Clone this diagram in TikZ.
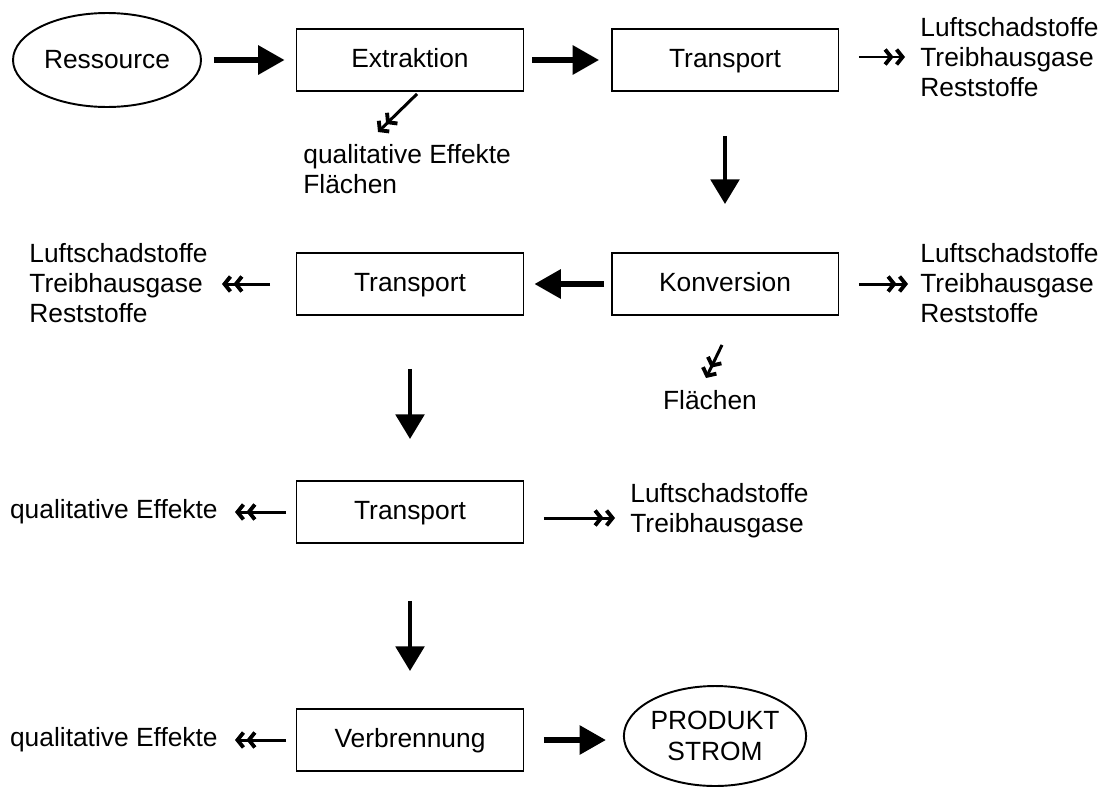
\documentclass[tikz,border=0pt]{standalone}
\usepackage{fontspec}
\setmainfont{Liberation Sans}
\usetikzlibrary{arrows.meta,shapes.geometric}
\begin{document}
\begin{tikzpicture}[x=0.02cm,y=-0.02cm, font=\fontsize{15}{17}\selectfont,
  box/.style={draw, line width=1.1pt, minimum width=4.54cm, minimum height=1.24cm, inner sep=0pt, text height=11pt, text depth=3pt},
  oval/.style={draw, ellipse, line width=1.1pt, inner sep=0pt, align=center},
  txt/.style={inner sep=0pt, align=left},
  bigarrow/.style={line width=3.2pt, -{Triangle[length=15pt,width=16pt]}},
  downarrow/.style={line width=2.8pt, -{Triangle[length=14pt,width=16pt]}},
  dblarrow/.style={line width=1.7pt, -{Straight Barb[length=3.4pt,width=8.5pt,line width=2.2pt,sep=0.6pt]Straight Barb[length=3.4pt,width=8.5pt,line width=2.2pt]}}]
\useasboundingbox (0,0) rectangle (1104,788);

% row 1
\node[oval, minimum width=3.76cm, minimum height=1.88cm] (res) at (107,60) {Ressource};
\node[box] (ext) at (410,60) {Extraktion};
\node[box] (tr1) at (725,60) {Transport};
\node[txt, anchor=west] (out1) at (920,57) {Luftschadstoffe\\Treibhausgase\\Reststoffe};
\node[txt, anchor=west] (q1) at (303,169) {qualitative Effekte\\Flächen};

\draw[bigarrow, shorten <=0.24cm, shorten >=0.22cm] (res.east) -- (ext.west);
\draw[bigarrow, shorten <=0.16cm, shorten >=0.23cm] (ext.east) -- (tr1.west);
\draw[dblarrow, shorten <=0.39cm, shorten >=0.3cm] (tr1.east |- out1.west) -- (out1.west);
\draw[dblarrow] ([shift={(7,2)}]ext.south) -- ([shift={(75,-37)}]q1.west);

% row 2
\node[box] (kon) at (725,284) {Konversion};
\node[box] (tr2) at (410,284) {Transport};
\node[txt, anchor=east] (out2L) at (208,283) {Luftschadstoffe\\Treibhausgase\\Reststoffe};
\node[txt, anchor=west] (out2R) at (920,283) {Luftschadstoffe\\Treibhausgase\\Reststoffe};
\node[txt] (fl) at (710,400) {Flächen};

\draw[downarrow, shorten <=0.88cm, shorten >=0.96cm] (tr1.south) -- (kon.north);
\draw[bigarrow, shorten <=0.13cm, shorten >=0.2cm] (kon.west) -- (tr2.east);
\draw[dblarrow, shorten <=0.51cm, shorten >=0.28cm] (tr2.west) -- (tr2.west -| out2L.east);
\draw[dblarrow, shorten <=0.39cm, shorten >=0.24cm] (kon.east) -- (kon.east -| out2R.west);
\draw[dblarrow] ([shift={(-3,29)}]kon.south) -- ([shift={(-4,-22)}]fl.center);

% row 3
\node[box] (tr3) at (410,512) {Transport};
\node[txt, anchor=east] (q3) at (218,512) {qualitative Effekte};
\node[txt, anchor=west] (out3) at (630,511) {Luftschadstoffe\\Treibhausgase};

\draw[downarrow, shorten <=1.06cm, shorten >=0.82cm] (tr2.south) -- (tr3.north);
\draw[dblarrow, shorten <=0.19cm, shorten >=0.34cm] (tr3.west) -- (tr3.west -| q3.east);
\draw[dblarrow, shorten <=0.39cm, shorten >=0.3cm] ([yshift=-0.12cm]tr3.east) -- ([yshift=-0.12cm]tr3.east -| out3.west);

% row 4
\node[box] (ver) at (410,740) {Verbrennung};
\node[txt, anchor=east] (q4) at (218,740) {qualitative Effekte};
\node[oval, minimum width=3.32cm, minimum height=2.0cm] (prod) at (715,736) {PRODUKT\\[1pt]STROM};

\draw[downarrow, shorten <=1.14cm, shorten >=0.74cm] (tr3.south) -- (ver.north);
\draw[dblarrow, shorten <=0.19cm, shorten >=0.34cm] (ver.west) -- (ver.west -| q4.east);
\draw[bigarrow, shorten <=0.39cm, shorten >=0.34cm] (ver.east) -- (ver.east -| prod.west);
\end{tikzpicture}
\end{document}
